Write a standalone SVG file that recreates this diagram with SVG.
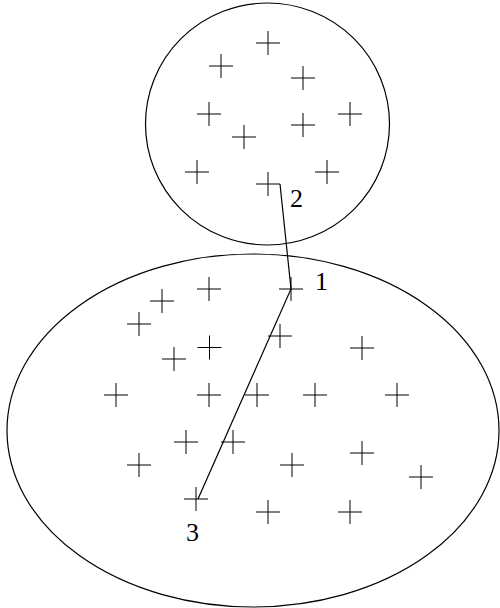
<svg xmlns="http://www.w3.org/2000/svg" xmlns:xlink="http://www.w3.org/1999/xlink" width="500" height="608" viewBox="0 0 500 608">
<style>
.shape{fill:none;stroke:#000;stroke-width:1.2}
.pt{fill:none;stroke:#000;stroke-width:1}
.edge{fill:none;stroke:#000;stroke-width:1.2}
.lbl{font-family:"Liberation Serif","Times New Roman",serif;font-size:26px;fill:#000}
</style>
<defs>
<path id="plus" class="pt" d="M-12 0h24M0-12v24"/>
</defs>
<rect width="500" height="608" fill="#fff"/>
<g id="set-top">
<ellipse class="shape" cx="267.5" cy="124" rx="122" ry="121"/>
</g>
<g id="set-bottom">
<ellipse class="shape" cx="253" cy="430.5" rx="246" ry="176.5"/>
</g>
<g id="points-top">
<g id="t1"><use xlink:href="#plus" x="268" y="43"/></g>
<g id="t2"><use xlink:href="#plus" x="221" y="66"/></g>
<g id="t3"><use xlink:href="#plus" x="303" y="78"/></g>
<g id="t4"><use xlink:href="#plus" x="209" y="114"/></g>
<g id="t5"><use xlink:href="#plus" x="350" y="114"/></g>
<g id="t6"><use xlink:href="#plus" x="303" y="125"/></g>
<g id="t7"><use xlink:href="#plus" x="244" y="137"/></g>
<g id="t8"><use xlink:href="#plus" x="197" y="172"/></g>
<g id="t9"><use xlink:href="#plus" x="327" y="172"/></g>
<g id="p2"><use xlink:href="#plus" x="268" y="184"/></g>
</g>
<g id="points-bottom">
<g id="b1"><use xlink:href="#plus" x="209" y="289"/></g>
<g id="b2"><use xlink:href="#plus" x="162" y="301"/></g>
<g id="b3"><use xlink:href="#plus" x="139" y="324"/></g>
<g id="p1"><use xlink:href="#plus" x="291" y="289"/></g>
<g id="b4"><use xlink:href="#plus" x="209.5" y="347.5"/></g>
<g id="b5"><use xlink:href="#plus" x="174" y="359"/></g>
<g id="b6"><use xlink:href="#plus" x="280" y="336"/></g>
<g id="b7"><use xlink:href="#plus" x="362" y="348"/></g>
<g id="b8"><use xlink:href="#plus" x="116" y="395"/></g>
<g id="b9"><use xlink:href="#plus" x="209" y="395"/></g>
<g id="b10"><use xlink:href="#plus" x="257" y="395"/></g>
<g id="b11"><use xlink:href="#plus" x="315" y="395"/></g>
<g id="b12"><use xlink:href="#plus" x="397" y="395"/></g>
<g id="b13"><use xlink:href="#plus" x="186" y="442"/></g>
<g id="b14"><use xlink:href="#plus" x="233" y="442"/></g>
<g id="b15"><use xlink:href="#plus" x="139" y="465"/></g>
<g id="b16"><use xlink:href="#plus" x="292" y="465"/></g>
<g id="b17"><use xlink:href="#plus" x="362" y="453"/></g>
<g id="b18"><use xlink:href="#plus" x="421" y="477"/></g>
<g id="p3"><use xlink:href="#plus" x="196" y="499"/></g>
<g id="b19"><use xlink:href="#plus" x="268" y="512"/></g>
<g id="b20"><use xlink:href="#plus" x="350" y="512"/></g>
</g>
<g id="connectors">
<polyline class="edge" points="280,184 291,289 198,499"/>
</g>
<g id="labels">
<text class="lbl" x="290" y="207">2</text>
<text class="lbl" x="315" y="290">1</text>
<text class="lbl" x="186" y="541">3</text>
</g>
</svg>
